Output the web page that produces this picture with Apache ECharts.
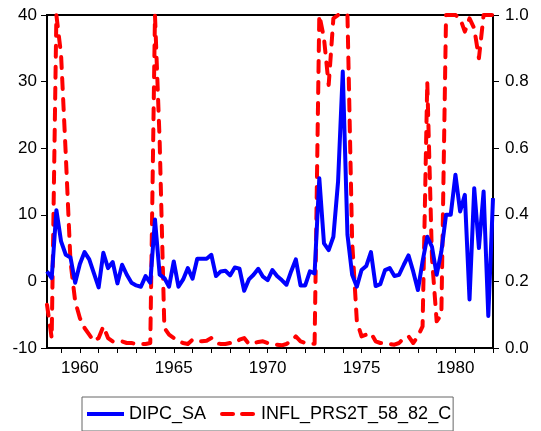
<!DOCTYPE html>
<html>
<head>
<meta charset="utf-8">
<script src="https://cdn.jsdelivr.net/npm/echarts@6/dist/echarts.min.js"></script>
<style>html,body{margin:0;padding:0;background:#fff;}#c{width:541px;height:431px;}</style>
</head>
<body>
<div id="c"></div>
<script>
// Quarterly observations 1958Q2 .. 1982Q1
var startYear = 1958, startQuarter = 2, nObs = 96;
var categories = [];
(function(){ var y = startYear, q = startQuarter; for (var i = 0; i < nObs; i++) { categories.push(y + 'Q' + q); q++; if (q > 4) { q = 1; y++; } } })();

var dipcSA = [
  1.5, 0.5, 10.7, 6.0, 4.0, 3.6, -0.2, 2.6, 4.4, 3.3,
  1.2, -0.9, 4.3, 2.0, 2.9, -0.3, 2.5, 1.0, -0.2, -0.6,
  -0.8, 0.8, -0.2, 9.3, 1.0, 0.5, -0.8, 3.0, -0.8, 0.3,
  2.0, 0.4, 3.4, 3.4, 3.4, 4.0, 0.8, 1.5, 1.6, 0.9,
  2.1, 1.9, -1.4, 0.3, 1.0, 1.9, 0.7, 0.2, 1.7, 0.8,
  0.2, -0.5, 1.5, 3.3, -0.6, -0.6, 1.5, 1.2, 15.5, 5.7,
  4.7, 6.7, 15.0, 31.5, 7.0, 1.0, -0.8, 1.7, 2.3, 4.4,
  -0.7, -0.4, 1.7, 2.0, 0.8, 1.0, 2.5, 3.9, 1.5, -1.3,
  3.0, 6.7, 5.2, 1.0, 4.5, 10.0, 10.0, 16.0, 10.5, 13.0,
  -2.7, 14.0, 5.0, 13.5, -5.2, 12.5
];

var inflPrs = [
  0.13, 0.03, 1.0, 0.88, 0.58, 0.26, 0.14, 0.09, 0.06, 0.04,
  0.02, 0.03, 0.065, 0.03, 0.02, 0.02, 0.02, 0.015, 0.015, 0.012,
  0.012, 0.012, 0.015, 1.0, 0.62, 0.06, 0.04, 0.03, 0.02, 0.015,
  0.012, 0.025, 0.02, 0.02, 0.022, 0.03, 0.015, 0.012, 0.012, 0.015,
  0.015, 0.025, 0.03, 0.012, 0.015, 0.018, 0.02, 0.015, 0.012, 0.01,
  0.008, 0.012, 0.02, 0.035, 0.02, 0.015, 0.013, 0.013, 1.0, 0.93,
  0.79, 0.99, 1.0, 1.0, 1.0, 0.32, 0.08, 0.035, 0.04, 0.045,
  0.02, 0.015, 0.015, 0.012, 0.01, 0.015, 0.03, 0.035, 0.015, 0.035,
  0.065, 0.8, 0.27, 0.08, 0.1, 1.0, 1.0, 1.0, 0.99, 0.95,
  0.99, 0.96, 0.87, 1.0, 1.0, 1.0
];

var seriesNames = ['DIPC_SA', 'INFL_PRS2T_58_82_C'];
var leftTicks = {min: -10, max: 40, interval: 10};
var rightTicks = {min: 0, max: 1, interval: 0.2};

var FONT = '"Liberation Sans", Arial, sans-serif';
var chart = echarts.init(document.getElementById('c'), null, {renderer: 'canvas'});
function isQ1(idx) { return categories[idx].slice(-2) === 'Q1'; }
chart.setOption({
  animation: false,
  backgroundColor: '#fff',
  grid: {left: 47, right: 48, top: 15, bottom: 83, show: true, borderColor: '#000', borderWidth: 2, backgroundColor: 'transparent'},
  legend: {
    top: 397, left: 82,
    borderColor: '#666', borderWidth: 1, borderRadius: 0,
    padding: [8, 2, 8, 5], itemGap: 14, itemWidth: 37, itemHeight: 4,
    textStyle: {fontSize: 18, color: '#000', fontFamily: FONT},
    data: [
      {name: seriesNames[0], icon: 'rect'},
      {name: seriesNames[1], icon: 'path://M2,0h11a2,2 0 0 1 0,4h-11a2,2 0 0 1 0,-4z M22,0h11a2,2 0 0 1 0,4h-11a2,2 0 0 1 0,-4z'}
    ]
  },
  xAxis: {
    type: 'category', data: categories, boundaryGap: false,
    axisLine: {show: true, onZero: false, lineStyle: {color: '#000', width: 2}},
    axisTick: {show: true, inside: false, length: 5, interval: function(i){ return isQ1(i); }, lineStyle: {color: '#000', width: 1}},
    axisLabel: {
      interval: function(i){ return isQ1(i) && (+categories[i].slice(0,4)) % 5 === 0; },
      formatter: function(v){ return v.slice(0,4); },
      margin: 12, fontSize: 17, color: '#000', fontFamily: FONT
    },
    splitLine: {show: false}
  },
  yAxis: [
    {
      type: 'value', min: leftTicks.min, max: leftTicks.max, interval: leftTicks.interval, position: 'left',
      axisLine: {show: true, lineStyle: {color: '#000', width: 2}},
      axisTick: {show: true, inside: false, length: 6, lineStyle: {color: '#000'}},
      axisLabel: {fontSize: 17, color: '#000', fontFamily: FONT, margin: 10},
      splitLine: {show: false}
    },
    {
      type: 'value', min: rightTicks.min, max: rightTicks.max, interval: rightTicks.interval, position: 'right',
      axisLine: {show: true, lineStyle: {color: '#000', width: 2}},
      axisTick: {show: true, inside: false, length: 6, lineStyle: {color: '#000'}},
      axisLabel: {fontSize: 17, color: '#000', fontFamily: FONT, margin: 12, formatter: function(v){ return v.toFixed(1); }},
      splitLine: {show: false}
    }
  ],
  series: [
    {
      name: seriesNames[0], type: 'line', yAxisIndex: 0, data: dipcSA,
      symbol: 'none', smooth: false, clip: true,
      lineStyle: {color: '#0000ff', width: 4, join: 'round'},
      itemStyle: {color: '#0000ff'}, z: 3
    },
    {
      name: seriesNames[1], type: 'line', yAxisIndex: 1, data: inflPrs,
      symbol: 'none', smooth: false, clip: true,
      lineStyle: {color: '#ff0000', width: 4, type: [11, 10], cap: 'round', join: 'round'},
      itemStyle: {color: '#ff0000'}, z: 2
    }
  ]
});
</script>
</body>
</html>
